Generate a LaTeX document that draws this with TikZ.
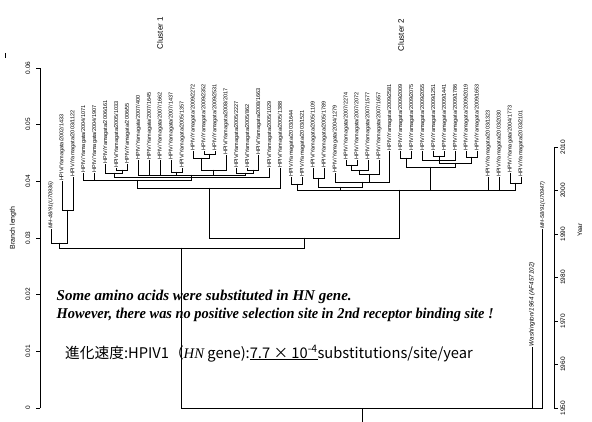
\documentclass[tikz,border=0pt]{standalone}
\usepackage{graphicx}
\usepackage{fontspec}
\setmainfont{Liberation Serif}
\setsansfont{Liberation Sans}
\newfontfamily\cjk{Noto Sans CJK JP}
\newcommand\mkleaf[4]{\coordinate (t#1) at (#2,{408-4.35*(#3-1950)});\node[leaflab] (lab#1) at (t#1) {#4};}
\begin{document}
\begin{tikzpicture}[x=1pt,y=-1pt,
  tree/.style={line width=0.8pt, black, line cap=rect},
  axisline/.style={line width=0.6pt, black},
  leaflab/.style={rotate=90, anchor=west, inner sep=0.6pt, font=\sffamily\fontsize{5.5}{6}\selectfont},
  itlab/.style={leaflab, font=\sffamily\itshape\fontsize{5.5}{6}\selectfont},
  ticklab/.style={rotate=90, inner sep=0pt, font=\sffamily\fontsize{6.5}{7}\selectfont},
  clusterlab/.style={rotate=90, inner sep=0pt, font=\sffamily\fontsize{8}{9}\selectfont},
  remark/.style={anchor=base west, inner sep=0pt, font=\rmfamily\bfseries\itshape\fontsize{15}{18}\selectfont},
  ratelab/.style={anchor=base west, inner sep=0pt, font=\cjk\fontsize{14.7}{17}\selectfont}]
\useasboundingbox (0,0) rectangle (592,422);
% leaves
\mkleaf{1}{51.0}{1991}{}
\node[itlab] (lab1b) at (t1) {MH-48/91(U70936)};
\mkleaf{2}{61.9}{2002}{HPIV/Yamagata/2002/1433}
\mkleaf{3}{72.9}{2003}{HPIV/Yamagata/2003/1122}
\mkleaf{4}{83.8}{2004}{HPIV/Yamagata/2004/1071}
\mkleaf{5}{94.7}{2004}{HPIV/Yamagata/2004/1907}
\mkleaf{6}{105.7}{2006}{HPIV/Yamagata/2006/161}
\mkleaf{7}{116.6}{2005}{HPIV/Yamagata/2005/1033}
\mkleaf{8}{127.5}{2006}{HPIV/Yamagata/2006/55}
\mkleaf{9}{138.4}{2007}{HPIV/Yamagata/2007/400}
\mkleaf{10}{149.4}{2007}{HPIV/Yamagata/2007/1645}
\mkleaf{11}{160.3}{2007}{HPIV/Yamagata/2007/1662}
\mkleaf{12}{171.2}{2007}{HPIV/Yamagata/2007/1437}
\mkleaf{13}{182.2}{2005}{HPIV/Yamagata/2005/1357}
\mkleaf{14}{193.1}{2009}{HPIV/Yamagata/2009/2272}
\mkleaf{15}{204.0}{2009}{HPIV/Yamagata/2009/2352}
\mkleaf{16}{214.9}{2009}{HPIV/Yamagata/2009/2531}
\mkleaf{17}{225.9}{2008}{HPIV/Yamagata/2008/2017}
\mkleaf{18}{236.8}{2005}{HPIV/Yamagata/2005/2227}
\mkleaf{19}{247.7}{2005}{HPIV/Yamagata/2005/862}
\mkleaf{20}{258.7}{2008}{HPIV/Yamagata/2008/1663}
\mkleaf{21}{269.6}{2005}{HPIV/Yamagata/2005/1029}
\mkleaf{22}{280.5}{2005}{HPIV/Yamagata/2005/1388}
\mkleaf{23}{291.5}{2003}{HPIV/Yamagata/2003/1644}
\mkleaf{24}{302.4}{2003}{HPIV/Yamagata/2003/1521}
\mkleaf{25}{313.3}{2005}{HPIV/Yamagata/2005/1109}
\mkleaf{26}{324.3}{2005}{HPIV/Yamagata/2005/1789}
\mkleaf{27}{335.2}{2004}{HPIV/Yamagata/2004/1279}
\mkleaf{28}{346.1}{2007}{HPIV/Yamagata/2007/2274}
\mkleaf{29}{357.0}{2007}{HPIV/Yamagata/2007/2072}
\mkleaf{30}{368.0}{2007}{HPIV/Yamagata/2007/1577}
\mkleaf{31}{378.9}{2007}{HPIV/Yamagata/2007/1657}
\mkleaf{32}{389.8}{2009}{HPIV/Yamagata/2009/2581}
\mkleaf{33}{400.8}{2009}{HPIV/Yamagata/2009/2009}
\mkleaf{34}{411.7}{2009}{HPIV/Yamagata/2009/2075}
\mkleaf{35}{422.6}{2009}{HPIV/Yamagata/2009/2055}
\mkleaf{36}{433.6}{2009}{HPIV/Yamagata/2009/1251}
\mkleaf{37}{444.5}{2009}{HPIV/Yamagata/2009/1441}
\mkleaf{38}{455.4}{2009}{HPIV/Yamagata/2009/1786}
\mkleaf{39}{466.3}{2009}{HPIV/Yamagata/2009/2019}
\mkleaf{40}{477.3}{2009}{HPIV/Yamagata/2009/1653}
\mkleaf{41}{488.2}{2003}{HPIV/Yamagata/2003/1323}
\mkleaf{42}{499.1}{2003}{HPIV/Yamagata/2003/2030}
\mkleaf{43}{510.1}{2004}{HPIV/Yamagata/2004/1773}
\mkleaf{44}{521.0}{2003}{HPIV/Yamagata/2003/2101}
\mkleaf{45}{531.9}{1964}{}
\node[itlab, font=\sffamily\itshape\fontsize{6.3}{7}\selectfont] (lab45b) at (t45) {Washington/1964 (AF457102)};
\mkleaf{46}{542.8}{1991}{}
\node[itlab] (lab46b) at (t46) {MH-58/91(U70947)};
% internal nodes
\coordinate (N2) at (67.4,210);
\coordinate (N1) at (59.2,243);
\coordinate (A1) at (122.05,170);
\coordinate (A) at (113.9,173);
\coordinate (B) at (176.7,172);
\coordinate (F) at (209.45,154);
\coordinate (E) at (201.3,158);
\coordinate (D) at (213.6,170);
\coordinate (H) at (253.2,170);
\coordinate (G) at (245,173);
\coordinate (W) at (191.7,175);
\coordinate (Y) at (191.75,177.5);
\coordinate (X) at (137.8,180);
\coordinate (R1) at (209.15,188);
\coordinate (P1) at (296.95,184);
\coordinate (P2) at (318.8,178);
\coordinate (J) at (351.55,165);
\coordinate (J2) at (359.8,170);
\coordinate (K) at (369.35,174);
\coordinate (V) at (362.5,182);
\coordinate (T2) at (340.65,187);
\coordinate (M1) at (406.25,158);
\coordinate (M3) at (439.05,156);
\coordinate (M4) at (439.0,160);
\coordinate (M5) at (471.8,157);
\coordinate (M6) at (455.4,163);
\coordinate (Q9) at (430.8,167);
\coordinate (U) at (515.55,183);
\coordinate (S) at (501.9,190);
\coordinate (R2) at (399.4,190);
\coordinate (N) at (304.3,238);
\coordinate (N0) at (181.75,248);
\coordinate (root) at (362.3,408);
\coordinate (rootbase) at (362.3,422);
% branches
\foreach \p/\c in {root/N0,root/t45,root/t46,N0/N1,N0/N,N1/t1,N1/N2,N2/t2,N2/t3,
  N/R1,N/R2,R1/X,R1/t22,X/t4,X/t5,X/Y,Y/A,Y/W,Y/t21,A/t6,A/A1,A1/t7,A1/t8,
  W/t9,W/t10,W/t11,W/B,W/D,W/G,B/t12,B/t13,D/E,D/t17,E/t14,E/F,F/t15,F/t16,
  G/t18,G/H,H/t19,H/t20,R2/P1,R2/T2,R2/Q9,R2/S,P1/t23,P1/t24,T2/P2,T2/V,
  P2/t25,P2/t26,V/t27,V/K,V/t32,K/J2,K/t31,J2/J,J2/t30,J/t28,J/t29,
  Q9/M1,Q9/M6,M1/t33,M1/t34,M6/M4,M6/M5,M4/t35,M4/M3,M4/t38,M3/t36,M3/t37,
  M5/t39,M5/t40,S/t41,S/t42,S/U,U/t43,U/t44}
  {\draw[tree] (\p) -| (\c);}
\draw[tree] (root) -- (rootbase);
% left axis
\coordinate (la0) at (40,408);
\coordinate (la6) at (40,68);
\draw[axisline] (la0) -- (la6);
\foreach \k/\t in {0/0,1/0.01,2/0.02,3/0.03,4/0.04,5/0.05,6/0.06}{
  \draw[axisline] (36,{408-56.667*\k}) -- (40,{408-56.667*\k});
  \node[ticklab] (lt\k) at (28,{408-56.667*\k}) {\t};
}
\node[ticklab, font=\sffamily\fontsize{7}{8}\selectfont] (blen) at (13,228) {Branch length};
\coordinate (m1) at (5,53);
\coordinate (m2) at (5,58);
\draw[axisline] (m1) -- (m2);
% right axis
\coordinate (ra0) at (554,408);
\coordinate (ra6) at (554,147);
\draw[axisline] (ra0) -- (ra6);
\foreach \k/\t in {0/1950,1/1960,2/1970,3/1980,4/1990,5/2000,6/2010}{
  \draw[axisline] (554,{408-43.5*\k}) -- (558,{408-43.5*\k});
  \node[ticklab] (rt\k) at (563,{408-43.5*\k}) {\t};
}
\node[ticklab] (yearlab) at (580,230) {Year};
% cluster labels
\node[clusterlab] (c1) at (160,33) {Cluster 1};
\node[clusterlab] (c2) at (401,35) {Cluster 2};
% remarks
\node[remark] (rem1) at (56.5,300.5) {Some amino acids were substituted in HN gene.};
\node[remark] (rem2) at (56.5,319) {\scalebox{0.958}[1]{However, there was no positive selection site in 2nd receptor binding site !}};
\node[ratelab] (rate) at (65,358) {進化速度:HPIV1（{\rmfamily\itshape HN} gene):\underline{7.7 × 10\textsuperscript{-4}}substitutions/site/year};
\end{tikzpicture}
\end{document}
